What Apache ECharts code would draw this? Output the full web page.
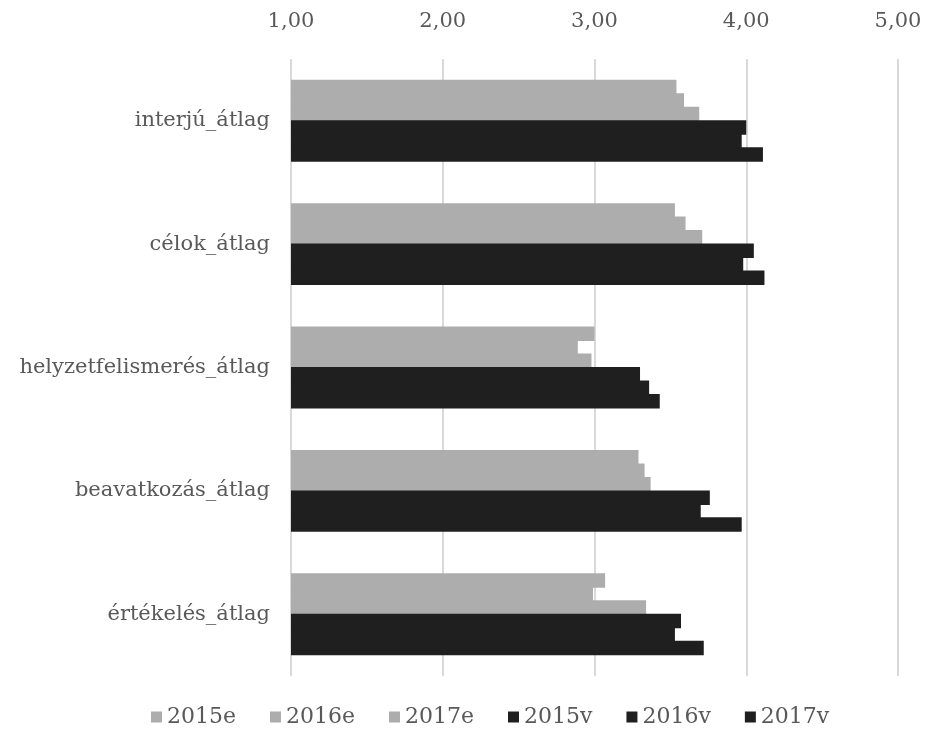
<!DOCTYPE html>
<html>
<head>
<meta charset="utf-8">
<script src="https://cdn.jsdelivr.net/npm/echarts@6/dist/echarts.min.js"></script>
<style>
  html, body { margin: 0; padding: 0; background: #ffffff; }
  #chart { width: 927px; height: 740px; }
</style>
</head>
<body>
<div id="chart"></div>
<script>
// Categories, top to bottom
const categories = ['interjú_átlag', 'célok_átlag', 'helyzetfelismerés_átlag', 'beavatkozás_átlag', 'értékelés_átlag'];

// Averages per year ("e" and "v" groups)
const s2015e = [3.54, 3.53, 3.00, 3.29, 3.07];
const s2016e = [3.59, 3.60, 2.89, 3.33, 2.99];
const s2017e = [3.69, 3.71, 2.98, 3.37, 3.34];
const s2015v = [4.00, 4.05, 3.30, 3.76, 3.57];
const s2016v = [3.97, 3.98, 3.36, 3.70, 3.53];
const s2017v = [4.11, 4.12, 3.43, 3.97, 3.72];

const seriesNames = ['2015e', '2016e', '2017e', '2015v', '2016v', '2017v'];
const seriesValues = [s2015e, s2016e, s2017e, s2015v, s2016v, s2017v];

const GRAY = '#adadad';
const BLACK = '#1f1f1f';
const FONT = 'DejaVu Serif';
const TEXT = '#595959';
const FS = 21;

const chart = echarts.init(document.getElementById('chart'), null, { renderer: 'canvas' });

// Bars in a group overlap by about a pixel so no seam shows between them.
const series = seriesNames.map((name, i) => ({
  name: name,
  type: 'bar',
  data: seriesValues[i],
  barWidth: 14.5,
  barGap: '-7%',
  itemStyle: { color: i < 3 ? GRAY : BLACK },
  emphasis: { disabled: true }
}));

chart.setOption({
  backgroundColor: '#ffffff',
  animation: false,
  textStyle: { fontFamily: FONT, color: TEXT },
  legend: {
    data: seriesNames,
    bottom: 7,
    left: 146,
    itemWidth: 11,
    itemHeight: 11,
    itemGap: 34,
    icon: 'rect',
    textStyle: { fontFamily: FONT, fontSize: 22, color: TEXT }
  },
  grid: { left: 291, right: 29, top: 59, bottom: 64, containLabel: false },
  xAxis: {
    type: 'value',
    position: 'top',
    min: 1,
    max: 5,
    interval: 1,
    axisLine: { show: false },
    axisTick: { show: false },
    axisLabel: {
      fontFamily: FONT,
      fontSize: FS,
      color: TEXT,
      margin: 27,
      formatter: v => v.toFixed(2).replace('.', ',')
    },
    splitLine: { show: true, lineStyle: { color: '#d9d9d9', width: 2 } }
  },
  yAxis: {
    type: 'category',
    inverse: true,
    data: categories,
    axisLine: { show: false },
    axisTick: { show: false },
    axisLabel: { fontFamily: FONT, fontSize: FS, color: TEXT, margin: 21 }
  },
  series: series
});
</script>
</body>
</html>
